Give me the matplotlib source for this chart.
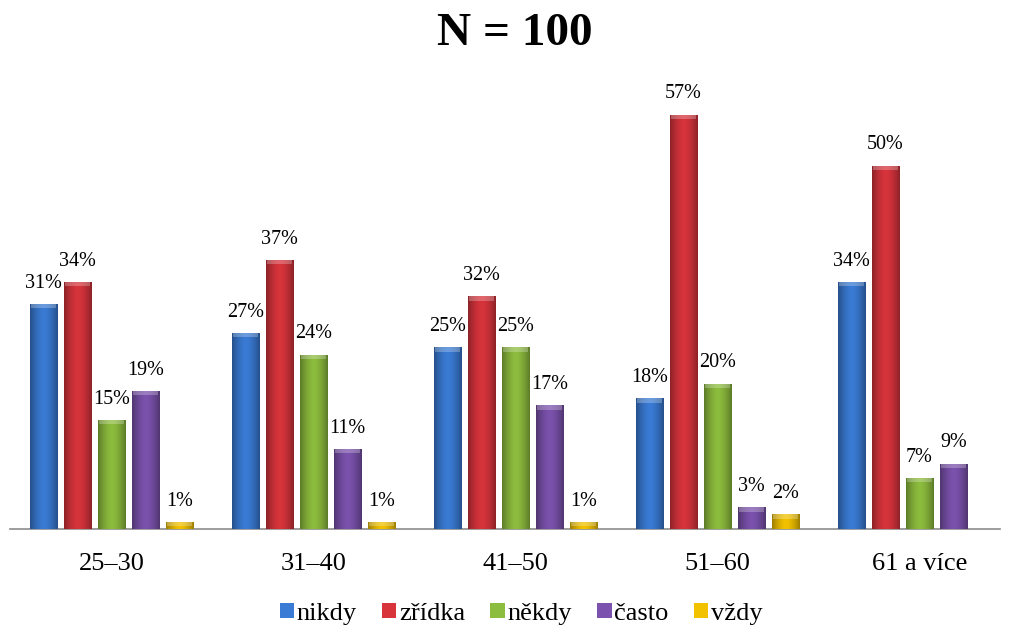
import numpy as np
import matplotlib.pyplot as plt
from matplotlib.patches import Patch
from matplotlib.colors import to_rgb

plt.rcParams['font.family'] = ['Liberation Serif', 'DejaVu Serif']

# věkové skupiny a odpovědi (v %)
skupiny = ["25–30", "31–40", "41–50", "51–60", "61 a více"]
odpovedi = ["nikdy", "zřídka", "někdy", "často", "vždy"]
nikdy = [31, 27, 25, 18, 34]
zridka = [34, 37, 32, 57, 50]
nekdy = [15, 24, 25, 20, 7]
casto = [19, 11, 17, 3, 9]
vzdy = [1, 1, 1, 2, 0]
barvy = ["#3a7bd5", "#d8343c", "#8dbd3e", "#7b52ad", "#f2c200"]


def gradient_bar(ax, x, w, h, color):
    # sloupec s jemným přechodem do tmavší barvy na okrajích
    c = np.array(to_rgb(color))
    t = np.linspace(-1, 1, 64)
    shade = 1 - 0.35 * np.abs(t) ** 1.6
    img = np.clip(c[None, None, :] * shade[None, :, None], 0, 1)
    img = np.repeat(img, 2, axis=0)
    bar = ax.bar(x, h, w, color=color, edgecolor='none', zorder=2)[0]
    im = ax.imshow(img, extent=(x - w / 2, x + w / 2, 0, h), aspect='auto',
                   zorder=3, interpolation='bilinear')
    im.set_clip_path(bar)
    # světlejší horní hrana
    top = min(0.6, h)
    ax.bar(x, top, w * 0.9, bottom=h - top, color='white', alpha=0.25,
           edgecolor='none', zorder=4)


fig = plt.figure(figsize=(10.09, 6.27), dpi=100)
ax = fig.add_axes([10 / 1009, 1 - 529 / 627, 990 / 1009, 449 / 627])

data = [nikdy, zridka, nekdy, casto, vzdy]
krok = 34 / 202
sirka = 27.5 / 202
x = np.arange(len(skupiny))
for j, (hodnoty, barva) in enumerate(zip(data, barvy)):
    for i, v in enumerate(hodnoty):
        if v == 0:
            continue
        xp = x[i] + (j - 2) * krok
        gradient_bar(ax, xp, sirka, v, barva)
        ax.annotate(f"{v}%", (xp, v), xytext=(0, 8), textcoords='offset points',
                    ha='center', va='bottom', fontsize=14.5)

ax.set_xlim(-101.5 / 202, 888.5 / 202)
ax.set_ylim(0, 449 / 7.27)
ax.set_xticks(x)
ax.set_xticklabels(skupiny, fontsize=19)
ax.tick_params(axis='x', length=0, pad=17)
ax.set_yticks([])
for s in ['top', 'right', 'left']:
    ax.spines[s].set_visible(False)
ax.spines['bottom'].set_color('#8c8c8c')
ax.spines['bottom'].set_linewidth(1.2)

fig.text(515 / 1009, 1 - 34 / 627, "N = 100", ha='center', va='center',
         fontsize=34, fontweight='bold')

handles = [Patch(facecolor=b, edgecolor='none') for b in barvy]
fig.legend(handles, odpovedi, loc='center', bbox_to_anchor=(521 / 1009, 1 - 614 / 627),
           ncol=5, frameon=False, fontsize=19, handlelength=0.55, handleheight=0.5,
           handletextpad=0.1, columnspacing=0.95, borderpad=0, borderaxespad=0)

fig.savefig("out.png", dpi=100)
